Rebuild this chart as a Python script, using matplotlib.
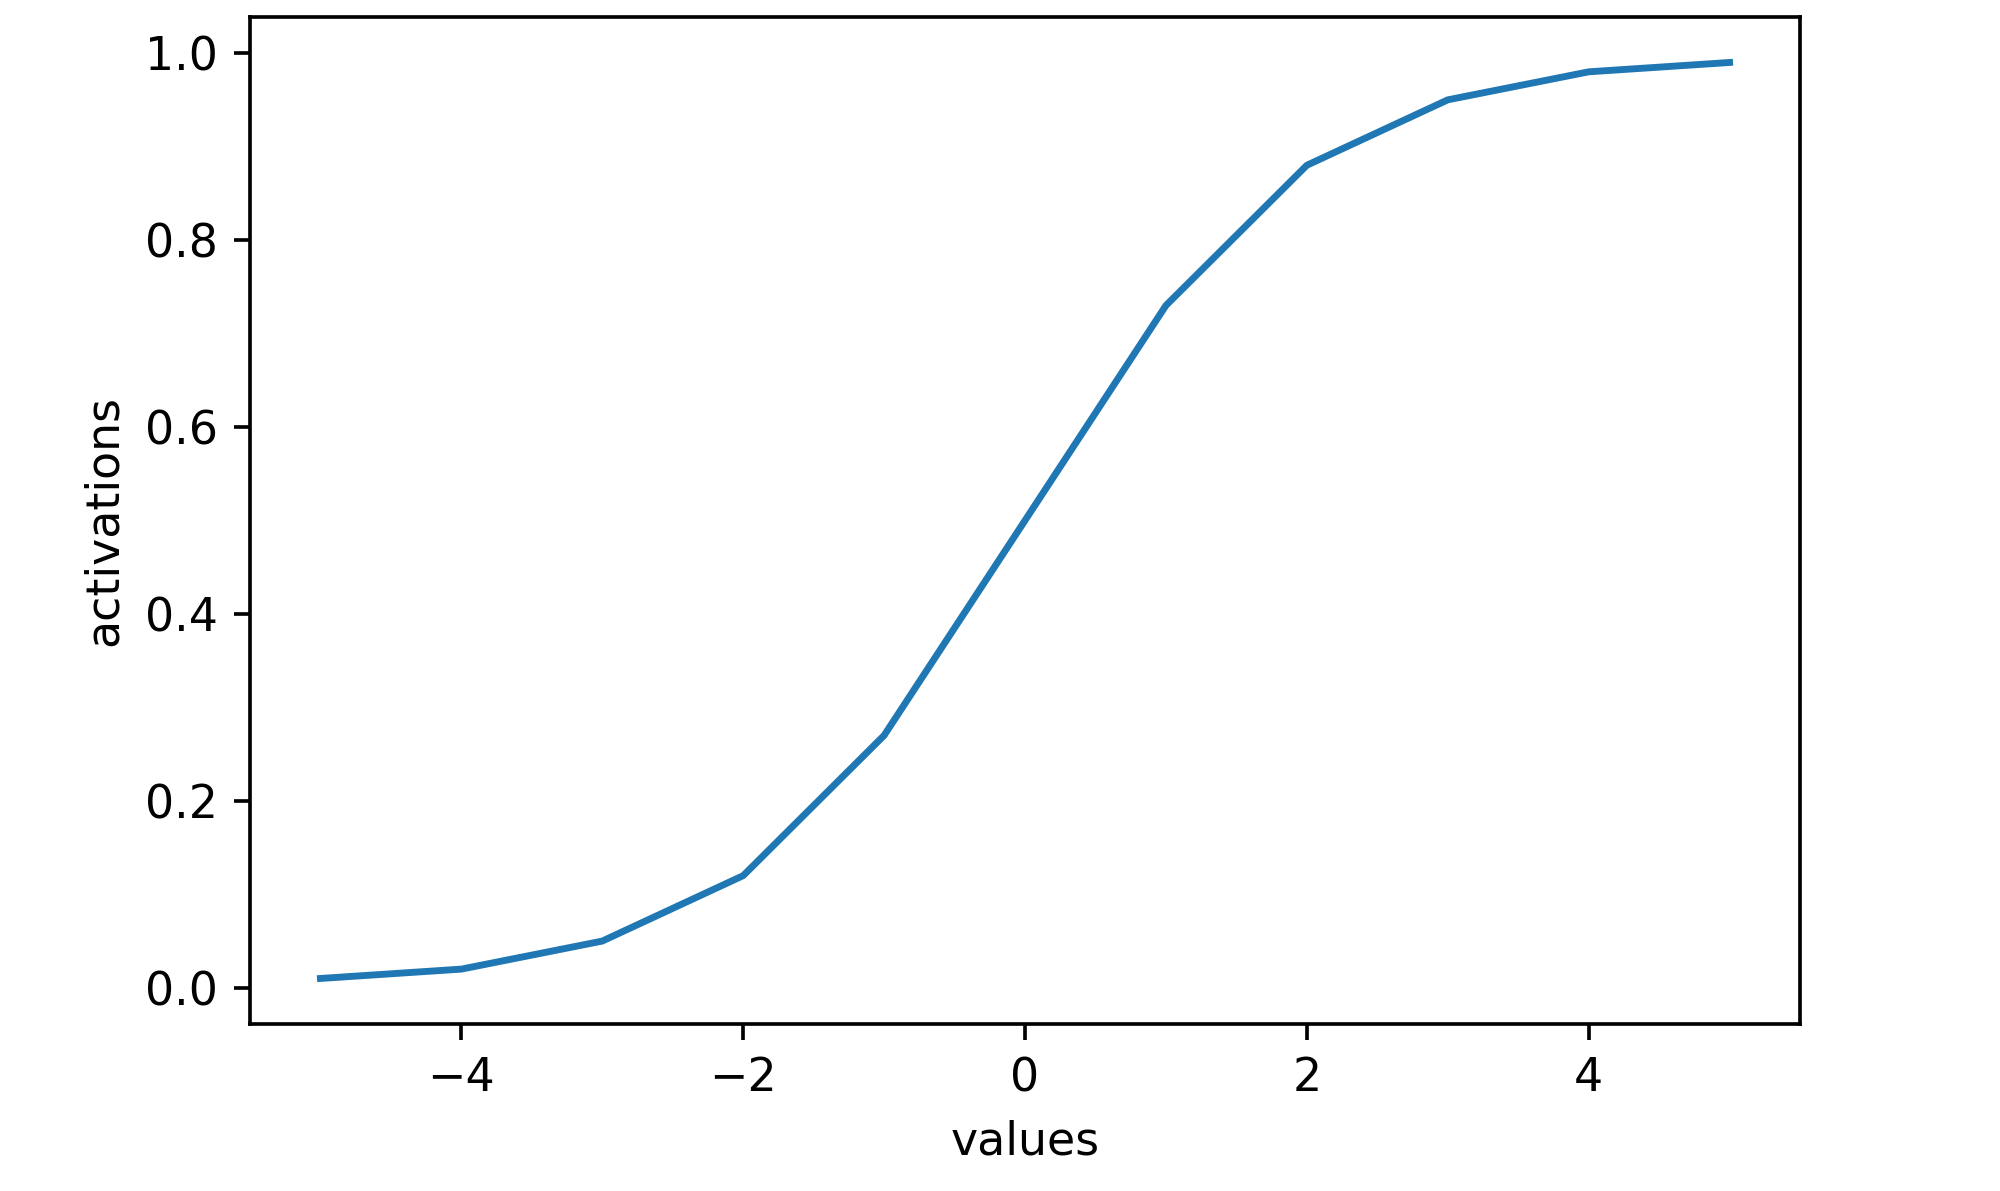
import matplotlib
matplotlib.use('Agg')
import matplotlib.pyplot as plt

# sigmoid activations
values = [-5, -4, -3, -2, -1, 0, 1, 2, 3, 4, 5]
activations = [0.01, 0.02, 0.05, 0.12, 0.27, 0.50, 0.73, 0.88, 0.95, 0.98, 0.99]

fig = plt.figure(figsize=(2000 / 330, 1191 / 330), dpi=330)
ax = fig.add_subplot(111)
fig.subplots_adjust(left=0.125, right=0.9, top=0.986, bottom=0.14)

ax.plot(values, activations)
ax.set_xlabel('values')
ax.set_ylabel('activations')

plt.savefig('out.png', dpi=330)
